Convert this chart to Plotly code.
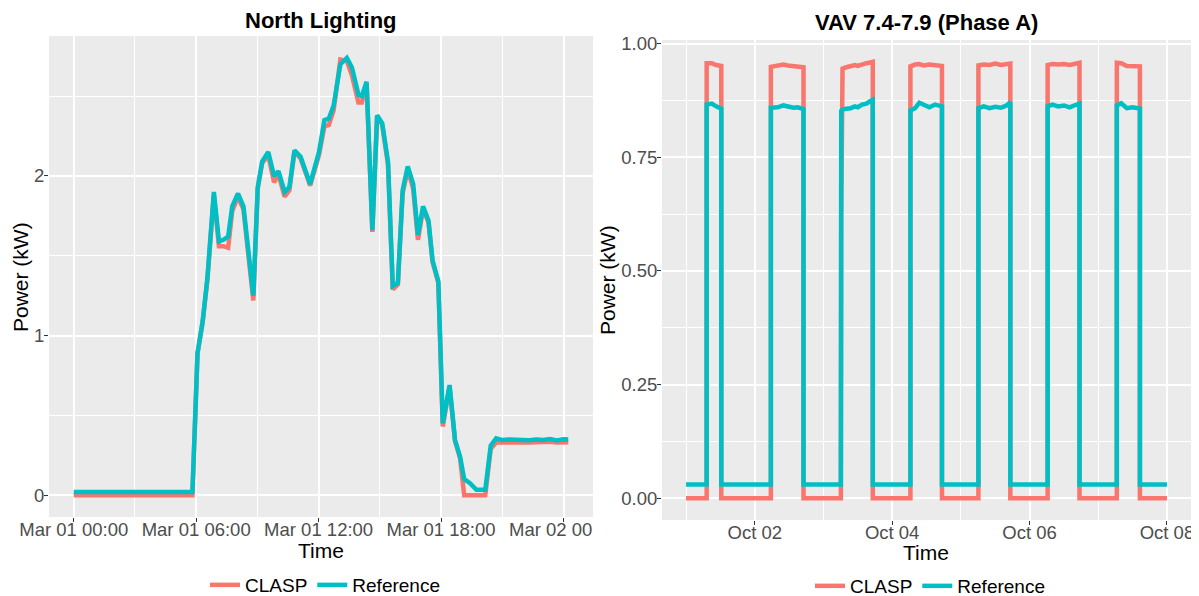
import plotly.graph_objects as go
import pandas as pd

# ---------------- North Lighting (left panel) ----------------
nl_time = [
    "2019-03-01 00:00", "2019-03-01 05:49", "2019-03-01 06:04", "2019-03-01 06:19", "2019-03-01 06:33",
    "2019-03-01 06:52", "2019-03-01 07:07", "2019-03-01 07:20", "2019-03-01 07:34", "2019-03-01 07:46",
    "2019-03-01 08:03", "2019-03-01 08:19", "2019-03-01 08:48", "2019-03-01 09:01", "2019-03-01 09:14",
    "2019-03-01 09:32", "2019-03-01 09:49", "2019-03-01 10:02", "2019-03-01 10:20", "2019-03-01 10:34",
    "2019-03-01 10:49", "2019-03-01 11:07", "2019-03-01 11:35", "2019-03-01 12:01", "2019-03-01 12:17",
    "2019-03-01 12:30", "2019-03-01 12:44", "2019-03-01 13:04", "2019-03-01 13:23", "2019-03-01 13:38",
    "2019-03-01 13:57", "2019-03-01 14:07", "2019-03-01 14:21", "2019-03-01 14:38", "2019-03-01 14:52",
    "2019-03-01 15:07", "2019-03-01 15:24", "2019-03-01 15:38", "2019-03-01 15:53", "2019-03-01 16:07",
    "2019-03-01 16:22", "2019-03-01 16:38", "2019-03-01 16:52", "2019-03-01 17:07", "2019-03-01 17:23",
    "2019-03-01 17:35", "2019-03-01 17:52", "2019-03-01 18:05", "2019-03-01 18:25", "2019-03-01 18:41",
    "2019-03-01 18:56", "2019-03-01 19:08", "2019-03-01 19:25", "2019-03-01 19:44", "2019-03-01 20:10",
    "2019-03-01 20:26", "2019-03-01 20:42", "2019-03-01 21:00", "2019-03-01 21:20", "2019-03-01 21:40",
    "2019-03-01 22:00", "2019-03-01 22:20", "2019-03-01 22:40", "2019-03-01 23:00", "2019-03-01 23:20",
    "2019-03-01 23:40", "2019-03-02 00:00", "2019-03-02 00:14",
]
nl_reference = [
    0.02, 0.02, 0.89, 1.09, 1.36, 1.90, 1.59, 1.60, 1.62, 1.81,
    1.89, 1.81, 1.25, 1.93, 2.09, 2.15, 2.00, 2.03, 1.90, 1.93,
    2.16, 2.12, 1.95, 2.15, 2.35, 2.36, 2.44, 2.70, 2.74, 2.68,
    2.51, 2.50, 2.59, 1.66, 2.38, 2.33, 2.09, 1.31, 1.33, 1.91,
    2.06, 1.95, 1.63, 1.81, 1.72, 1.47, 1.34, 0.45, 0.69, 0.345,
    0.24, 0.10, 0.075, 0.033, 0.033, 0.31, 0.356, 0.345, 0.348, 0.345,
    0.347, 0.344, 0.348, 0.346, 0.352, 0.343, 0.350, 0.349,
]
nl_clasp = [
    0.0, 0.0, 0.89, 1.08, 1.35, 1.88, 1.56, 1.56, 1.55, 1.78,
    1.87, 1.79, 1.22, 1.92, 2.08, 2.13, 1.96, 2.01, 1.87, 1.91,
    2.15, 2.11, 1.94, 2.13, 2.31, 2.32, 2.41, 2.73, 2.72, 2.63,
    2.46, 2.46, 2.58, 1.65, 2.37, 2.32, 2.07, 1.29, 1.32, 1.89,
    2.04, 1.92, 1.60, 1.79, 1.71, 1.46, 1.33, 0.43, 0.68, 0.34,
    0.23, 0.0, 0.0, 0.0, 0.0, 0.29, 0.33, 0.33, 0.332, 0.33,
    0.331, 0.33, 0.333, 0.33, 0.335, 0.33, 0.332, 0.332,
]
nl_tickvals = ["2019-03-01 00:00", "2019-03-01 06:00", "2019-03-01 12:00", "2019-03-01 18:00", "2019-03-02 00:00"]
nl_ticktext = ["Mar 01 00:00", "Mar 01 06:00", "Mar 01 12:00", "Mar 01 18:00", "Mar 02 00:00"]
nl_minor = ["2019-03-01 03:00", "2019-03-01 09:00", "2019-03-01 15:00", "2019-03-01 21:00"]
nl_yticks = [0, 1, 2]
nl_yminor = [0.5, 1.5, 2.5]

# ---------------- VAV 7.4-7.9 (Phase A) (right panel) ----------------
vav_time = [
    "2019-10-01 00:00",
    "2019-10-01 07:12", "2019-10-01 07:12", "2019-10-01 09:00", "2019-10-01 10:30", "2019-10-01 12:19", "2019-10-01 12:19",
    "2019-10-02 05:38", "2019-10-02 05:38", "2019-10-02 08:00", "2019-10-02 10:00", "2019-10-02 11:30", "2019-10-02 13:30",
    "2019-10-02 15:00", "2019-10-02 17:02", "2019-10-02 17:02",
    "2019-10-03 06:05", "2019-10-03 06:13", "2019-10-03 06:40", "2019-10-03 08:00", "2019-10-03 09:30", "2019-10-03 11:00",
    "2019-10-03 12:00", "2019-10-03 13:30", "2019-10-03 15:00", "2019-10-03 16:00", "2019-10-03 17:14", "2019-10-03 17:14",
    "2019-10-04 06:23", "2019-10-04 06:23", "2019-10-04 08:00", "2019-10-04 09:30", "2019-10-04 11:00", "2019-10-04 13:00",
    "2019-10-04 15:00", "2019-10-04 17:24", "2019-10-04 17:24",
    "2019-10-05 06:08", "2019-10-05 06:08", "2019-10-05 08:00", "2019-10-05 10:00", "2019-10-05 12:00", "2019-10-05 14:00",
    "2019-10-05 16:00", "2019-10-05 17:17", "2019-10-05 17:17",
    "2019-10-06 06:19", "2019-10-06 06:19", "2019-10-06 08:00", "2019-10-06 10:00", "2019-10-06 12:00", "2019-10-06 14:00",
    "2019-10-06 16:00", "2019-10-06 17:27", "2019-10-06 17:27",
    "2019-10-07 06:29", "2019-10-07 06:29", "2019-10-07 08:00", "2019-10-07 10:00", "2019-10-07 12:00", "2019-10-07 14:33",
    "2019-10-07 14:33",
    "2019-10-08 00:00",
]
vav_reference = [
    0.03,
    0.03, 0.866, 0.868, 0.862, 0.857, 0.03,
    0.03, 0.859, 0.860, 0.864, 0.861, 0.859, 0.860, 0.856, 0.03,
    0.03, 0.852, 0.855, 0.857, 0.858, 0.862, 0.860, 0.866, 0.868, 0.872, 0.876, 0.03,
    0.03, 0.853, 0.858, 0.870, 0.866, 0.860, 0.866, 0.862, 0.03,
    0.03, 0.858, 0.862, 0.858, 0.861, 0.859, 0.864, 0.871, 0.03,
    0.03, 0.862, 0.866, 0.862, 0.864, 0.860, 0.865, 0.868, 0.03,
    0.03, 0.864, 0.869, 0.858, 0.860, 0.857, 0.03,
    0.03,
]
vav_clasp = [
    0.0,
    0.0, 0.957, 0.957, 0.953, 0.951, 0.0,
    0.0, 0.949, 0.951, 0.954, 0.952, 0.951, 0.950, 0.948, 0.0,
    0.0, 0.625, 0.945, 0.948, 0.950, 0.953, 0.951, 0.955, 0.957, 0.958, 0.960, 0.0,
    0.0, 0.950, 0.954, 0.955, 0.952, 0.954, 0.953, 0.951, 0.0,
    0.0, 0.952, 0.954, 0.953, 0.956, 0.953, 0.955, 0.956, 0.0,
    0.0, 0.953, 0.955, 0.954, 0.955, 0.953, 0.956, 0.958, 0.0,
    0.0, 0.958, 0.957, 0.951, 0.951, 0.950, 0.0,
    0.0,
]
vav_tickvals = ["2019-10-02", "2019-10-04", "2019-10-06", "2019-10-08"]
vav_ticktext = ["Oct 02", "Oct 04", "Oct 06", "Oct 08"]
vav_minor = ["2019-10-01", "2019-10-03", "2019-10-05", "2019-10-07"]
vav_yticks = [0.0, 0.25, 0.5, 0.75, 1.0]
vav_yminor = [0.125, 0.375, 0.625, 0.875]

series_names = ["CLASP", "Reference"]
series_colors = ["#F8766D", "#00BFC4"]

# the page body has an 8px margin, so the figure is sized to end at the window edge
PAGE_OFF = 8
W, H = 1199 - PAGE_OFF, 596 - PAGE_OFF
FONT = "Liberation Sans, Arial, sans-serif"


def px_x(p):
    return (p - PAGE_OFF) / W


def px_y(p):
    return 1 - (p - PAGE_OFF) / H


def expand(lo, hi, f=0.05):
    d = (hi - lo) * f
    return [lo - d, hi + d]


nl_t = pd.to_datetime(pd.Series(nl_time))
vav_t = pd.to_datetime(pd.Series(vav_time))

fig = go.Figure()
for name, col, vals in zip(series_names, series_colors, [nl_clasp, nl_reference]):
    fig.add_trace(go.Scatter(x=nl_t, y=vals, mode="lines", name=name,
                             line=dict(color=col, width=4.5), xaxis="x", yaxis="y",
                             legend="legend"))
for name, col, vals in zip(series_names, series_colors, [vav_clasp, vav_reference]):
    fig.add_trace(go.Scatter(x=vav_t, y=vals, mode="lines", name=name,
                             line=dict(color=col, width=4.5), xaxis="x2", yaxis="y2",
                             legend="legend2"))

all_nl = nl_clasp + nl_reference
all_vav = vav_clasp + vav_reference
nl_xr = expand(nl_t.min(), nl_t.max())
vav_xr = expand(vav_t.min(), vav_t.max())

tickfont = dict(family=FONT, size=18.5, color="#4D4D4D")
common_axis = dict(showgrid=True, gridcolor="white", gridwidth=1.6, zeroline=False,
                   showline=False, ticks="outside", ticklen=4, tickwidth=1,
                   tickcolor="#333333", tickfont=tickfont, automargin=False)
minor_style = dict(showgrid=True, gridcolor="white", gridwidth=0.8, ticks="")
x_extra = dict(ticklabelstandoff=-8)
y_extra = dict(ticklabelstandoff=-4)

legend_font = dict(family=FONT, size=19, color="black")

fig.update_layout(
    width=W, height=H,
    margin=dict(l=0, r=0, t=0, b=0, autoexpand=False),
    paper_bgcolor="white",
    plot_bgcolor="#EBEBEB",
    font=dict(family=FONT, color="black"),
    xaxis=dict(domain=[px_x(49), px_x(593)], anchor="y", type="date",
               range=nl_xr, tickmode="array", tickvals=nl_tickvals, ticktext=nl_ticktext,
               minor=dict(tickvals=nl_minor, **minor_style), **common_axis, **x_extra),
    yaxis=dict(domain=[px_y(517), px_y(36)], anchor="x",
               range=expand(min(all_nl), max(all_nl)), tickmode="array",
               tickvals=nl_yticks, ticktext=[str(v) for v in nl_yticks],
               minor=dict(tickvals=nl_yminor, **minor_style), **common_axis, **y_extra),
    xaxis2=dict(domain=[px_x(662), px_x(1191)], anchor="y2", type="date",
                range=vav_xr, tickmode="array", tickvals=vav_tickvals, ticktext=vav_ticktext,
                minor=dict(tickvals=vav_minor, **minor_style), **common_axis, **x_extra),
    yaxis2=dict(domain=[px_y(520), px_y(40)], anchor="x2",
                range=expand(min(all_vav), max(all_vav)), tickmode="array",
                tickvals=vav_yticks, ticktext=["%.2f" % v for v in vav_yticks],
                minor=dict(tickvals=vav_yminor, **minor_style), **common_axis, **y_extra),
    legend=dict(orientation="h", x=px_x(325), xanchor="center", y=px_y(585), yanchor="middle",
                font=legend_font, bgcolor="rgba(0,0,0,0)", itemwidth=30, tracegroupgap=0),
    legend2=dict(orientation="h", x=px_x(930), xanchor="center", y=px_y(586), yanchor="middle",
                 font=legend_font, bgcolor="rgba(0,0,0,0)", itemwidth=30, tracegroupgap=0),
    showlegend=True,
)

annos = [
    dict(text="<b>North Lighting</b>", x=px_x(321), y=px_y(20), size=22),
    dict(text="<b>VAV 7.4-7.9 (Phase A)</b>", x=px_x(926), y=px_y(22), size=22),
    dict(text="Time", x=px_x(321), y=px_y(550), size=21),
    dict(text="Time", x=px_x(926), y=px_y(552), size=21),
]
for a in annos:
    fig.add_annotation(text=a["text"], x=a["x"], y=a["y"], xref="paper", yref="paper",
                       xanchor="center", yanchor="middle", showarrow=False,
                       font=dict(family=FONT, size=a["size"], color="black"))
for xp, yp in [(20, 277), (607, 280)]:
    fig.add_annotation(text="Power (kW)", x=px_x(xp), y=px_y(yp), xref="paper", yref="paper",
                       xanchor="center", yanchor="middle", showarrow=False, textangle=-90,
                       font=dict(family=FONT, size=21, color="black"))

# the reference image crops the last left-panel tick label at the panel gap
fig.add_shape(type="rect", xref="paper", yref="paper", layer="above",
              x0=px_x(593), x1=px_x(650), y0=px_y(546), y1=px_y(521),
              fillcolor="white", line=dict(width=0))

fig.write_html("out.html")
